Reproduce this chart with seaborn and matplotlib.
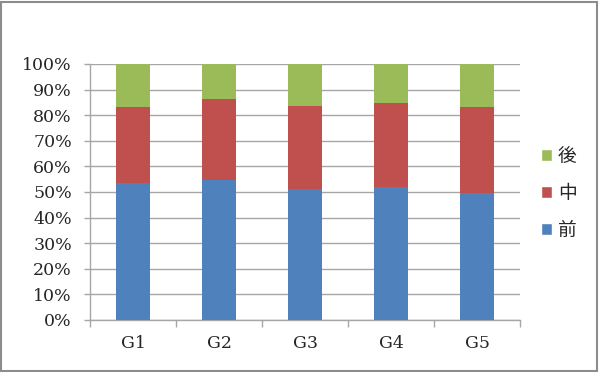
import numpy as np
import pandas as pd
import seaborn as sns
import matplotlib.pyplot as plt
from matplotlib.patches import Patch, Rectangle
from matplotlib.ticker import FixedLocator

# data (percent of each group)
groups = ['G1', 'G2', 'G3', 'G4', 'G5']
mae = [53.6, 54.8, 51.0, 51.8, 49.5]      # 前
naka = [29.7, 31.4, 32.6, 33.0, 33.8]     # 中
ato = [16.7, 13.8, 16.4, 15.2, 16.7]      # 後
series_names = ['前', '中', '後']
y_ticks = [0, 10, 20, 30, 40, 50, 60, 70, 80, 90, 100]
y_labels = [f'{t}%' for t in y_ticks]

colors = ['#4F81BD', '#C0504D', '#9BBB59']

sns.set_theme(style='white')
plt.rcParams['font.family'] = ['DejaVu Serif', 'Noto Sans CJK JP']

fig = plt.figure(figsize=(6, 3.72), dpi=100)
ax = fig.add_axes([0.15, 0.1398, 0.7167, 0.6882])

df = pd.DataFrame({'group': groups, '前': mae, '中': naka, '後': ato})
bottom = np.zeros(len(groups))
for name, c in zip(series_names, colors):
    sns.barplot(data=df, x='group', y=name, color=c, width=0.4,
                bottom=bottom, ax=ax, saturation=1, zorder=3, linewidth=0)
    bottom = bottom + df[name].to_numpy()

ax.set_ylim(0, 100)
ax.set_xlim(-0.5, 4.5)
ax.set_yticks(y_ticks)
ax.set_yticklabels(y_labels)
ax.set_xlabel('')
ax.set_ylabel('')
ax.yaxis.grid(True, color='#A6A6A6', linewidth=1, zorder=0)
ax.set_axisbelow(True)

for s in ['top', 'right']:
    ax.spines[s].set_visible(False)
for s in ['left', 'bottom']:
    ax.spines[s].set_color('#A6A6A6')
    ax.spines[s].set_linewidth(1)

ax.tick_params(axis='y', which='major', direction='out', length=4,
               color='#A6A6A6', width=1, pad=9, labelsize=12.5, left=True)
ax.tick_params(axis='x', which='major', length=0, pad=11, labelsize=12.5)
ax.xaxis.set_minor_locator(FixedLocator(np.arange(-0.5, 5, 1)))
ax.tick_params(axis='x', which='minor', direction='out', length=5,
               color='#A6A6A6', width=1, bottom=True)

handles = [Patch(facecolor=c) for c in colors][::-1]
fig.legend(handles, series_names[::-1], loc='center left',
           bbox_to_anchor=(0.902, 0.481), frameon=False, borderpad=0,
           borderaxespad=0, handlelength=0.55, handleheight=0.55,
           handletextpad=0.35, labelspacing=0.85,
           prop={'family': 'Noto Sans CJK JP', 'size': 13.5})

fig.patches.append(Rectangle((0.002, 0.004), 0.993, 0.99, transform=fig.transFigure,
                             fill=False, edgecolor='#8C8C8C', linewidth=1.5))

fig.savefig('out.png', dpi=100)
